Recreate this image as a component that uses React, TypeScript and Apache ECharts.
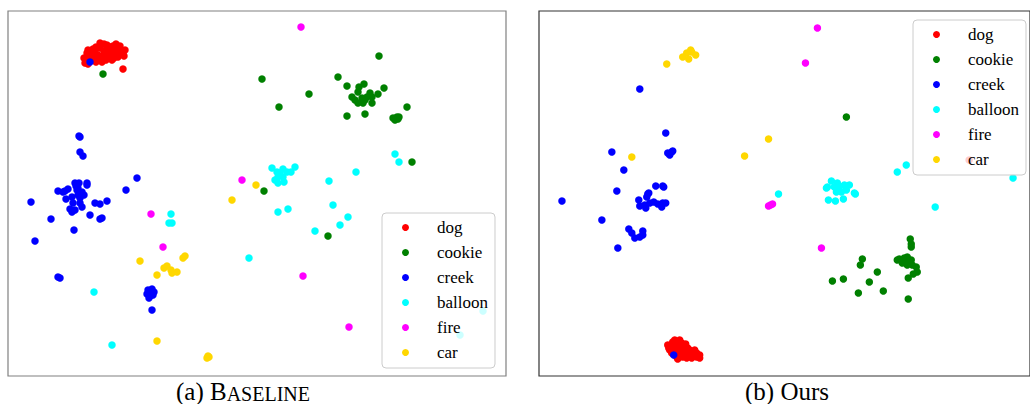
import React, { useEffect, useRef } from "react";
import * as echarts from "echarts";

const CLASSES = ["dog", "cookie", "creek", "balloon", "fire", "car"];
const COLORS = ["#ff0000", "#008000", "#0000ff", "#00ffff", "#ff00ff", "#ffd700"];

// Panel (a) Baseline (embedding units)
const baseDog = [
  [100, 43], [107, 45], [113, 46], [120, 46], [88, 50], [93, 49], [100, 48], [107, 49], [115, 50], [122, 52],
  [87, 53], [92, 55], [98, 55], [105, 53], [112, 55], [118, 57], [123, 53], [90, 60], [97, 59], [102, 62],
  [85, 63], [88, 64], [123, 69], [96, 47], [110, 47], [117, 48], [104, 51], [110, 52], [95, 52], [100, 57],
  [108, 57], [114, 58], [94, 58], [86, 60], [84, 58], [89, 57], [104, 44], [116, 44], [103, 56], [119, 50],
  [125, 50], [91, 52], [106, 60], [96, 62], [101, 60], [112, 60], [118, 54], [124, 56],
];
const baseCookie = [
  [103, 74], [262, 79], [379, 56], [338, 77], [347, 86], [309, 94], [279, 107], [359, 87], [364, 84], [358, 92],
  [384, 88], [378, 94], [370, 93], [352, 97], [355, 100], [362, 98], [367, 97], [372, 97], [358, 103], [363, 103],
  [372, 103], [365, 100], [407, 107], [347, 116], [365, 114], [393, 118], [397, 117], [398, 119], [395, 120],
  [399, 117], [412, 162], [264, 191], [328, 236],
];
const baseCreek = [
  [90, 62], [79, 136], [80, 137], [80, 152], [83, 156], [137, 178], [126, 190], [75, 183], [79, 183], [87, 183],
  [87, 185], [58, 191], [63, 192], [68, 189], [77, 190], [82, 192], [65, 191], [78, 188], [78, 195], [72, 197],
  [80, 198], [31, 202], [66, 199], [95, 203], [100, 204], [107, 201], [80, 203], [82, 207], [70, 209], [72, 212],
  [75, 210], [51, 219], [90, 215], [100, 219], [102, 218], [74, 230], [35, 241], [58, 277], [60, 278], [148, 290],
  [152, 289], [154, 292], [147, 294], [150, 296], [153, 295], [149, 298], [152, 310], [84, 195], [76, 186], [73, 203],
];
const baseBalloon = [
  [171, 214], [169, 223], [172, 223], [94, 292], [112, 345], [249, 258], [395, 154], [399, 162], [356, 172],
  [329, 181], [272, 168], [277, 172], [283, 169], [287, 172], [291, 172], [295, 167], [278, 177], [283, 177],
  [275, 180], [278, 183], [284, 182], [280, 173], [278, 212], [288, 209], [333, 205], [348, 217], [340, 225],
  [315, 231], [483, 311], [460, 335],
];
const baseFire = [[301, 27], [242, 180], [151, 214], [163, 247], [303, 276], [349, 327]];
const baseCar = [
  [256, 185], [232, 200], [140, 261], [157, 275], [164, 268], [167, 266], [171, 270], [172, 273], [177, 272],
  [183, 258], [185, 256], [157, 341], [208, 356], [207, 358], [209, 357],
];

// Panel (b) Ours
const oursDog = [
  [680, 340], [673, 342], [668, 345], [678, 345], [685, 347], [690, 350], [697, 353], [700, 355], [670, 350],
  [677, 352], [683, 353], [690, 356], [697, 357], [677, 357], [678, 359], [683, 357], [675, 347], [687, 352],
  [694, 354], [672, 353], [681, 349], [682, 343], [688, 348], [692, 358], [675, 340], [686, 344], [695, 350],
  [700, 358], [671, 345], [680, 355], [687, 358], [669, 348], [970, 160],
];
const oursCookie = [
  [847, 117], [911, 239], [912, 244], [912, 247], [900, 259], [905, 258], [908, 257], [912, 260], [903, 263],
  [908, 265], [913, 265], [917, 267], [898, 260], [907, 261], [918, 272], [914, 274], [909, 278], [909, 299],
  [863, 259], [861, 265], [878, 272], [844, 279], [833, 281], [870, 282], [859, 293], [884, 291],
];
const oursCreek = [
  [640, 89], [666, 133], [612, 152], [624, 170], [672, 152], [668, 153], [670, 155], [673, 151], [656, 186],
  [663, 186], [664, 187], [617, 191], [649, 193], [562, 201], [648, 194], [647, 197], [639, 200], [640, 206],
  [645, 205], [646, 208], [650, 203], [654, 202], [658, 204], [662, 207], [666, 203], [663, 203], [602, 220],
  [629, 229], [632, 233], [635, 238], [640, 237], [643, 231], [643, 235], [618, 248], [674, 355],
];
const oursBalloon = [
  [779, 194], [907, 165], [898, 172], [1014, 178], [832, 181], [828, 187], [835, 187], [840, 187], [850, 185],
  [855, 193], [842, 192], [847, 190], [837, 192], [827, 188], [829, 200], [836, 201], [844, 199], [856, 194],
  [936, 207], [845, 185], [838, 183],
];
const oursFire = [[818, 28], [806, 63], [769, 206], [773, 204], [771, 205], [822, 248]];
const oursCar = [
  [691, 50], [687, 53], [683, 57], [689, 59], [696, 55], [692, 52], [667, 64], [769, 139], [745, 156], [632, 157],
];

const BASE = [baseDog, baseCookie, baseCreek, baseBalloon, baseFire, baseCar];
const OURS = [oursDog, oursCookie, oursCreek, oursBalloon, oursFire, oursCar];

const FONT = "'Liberation Serif', 'Times New Roman', serif";

export default function App() {
  const ref = useRef<HTMLDivElement>(null);
  useEffect(() => {
    document.body.style.margin = "0";
    const chart = echarts.init(ref.current!, undefined, { renderer: "svg" });
    const mkSeries = (sets: number[][][], idx: number) =>
      sets.map((d, i) => ({
        type: "scatter",
        name: CLASSES[i],
        xAxisIndex: idx,
        yAxisIndex: idx,
        data: d,
        symbolSize: 7.5,
        itemStyle: { color: COLORS[i], opacity: 1 },
        emphasis: { disabled: true },
      }));
    const legendBase = {
      data: CLASSES,
      orient: "vertical",
      icon: "circle",
      itemWidth: 7,
      itemHeight: 7,
      itemGap: 8,
      padding: [6, 7, 7, 20],
      backgroundColor: "rgba(255,255,255,0.8)",
      borderColor: "#cccccc",
      borderWidth: 1,
      borderRadius: 4,
      selectedMode: false,
      textStyle: { fontFamily: FONT, fontSize: 17, color: "#000", lineHeight: 17, padding: [0, 0, 0, 23] },
    };
    chart.setOption({
      animation: false,
      grid: [
        { left: 8, top: 11, width: 498, height: 365, show: true, borderColor: "#808080", borderWidth: 1.2, backgroundColor: "transparent" },
        { left: 539, top: 11, width: 492, height: 365, show: true, borderColor: "#333333", borderWidth: 1.2, backgroundColor: "transparent" },
      ],
      xAxis: [
        { gridIndex: 0, type: "value", min: 8, max: 506, show: false },
        { gridIndex: 1, type: "value", min: 539, max: 1031, show: false },
      ],
      yAxis: [
        { gridIndex: 0, type: "value", min: 11, max: 376, inverse: true, show: false },
        { gridIndex: 1, type: "value", min: 11, max: 376, inverse: true, show: false },
      ],
      legend: [
        { ...legendBase, left: 382, top: 213 },
        { ...legendBase, left: 913, top: 20 },
      ],
      title: [
        {
          text: "{a|(a) B}{b|ASELINE}",
          left: 176,
          top: 378,
          padding: 0,
          textStyle: {
            rich: {
              a: { fontFamily: FONT, fontSize: 25, color: "#000", fontWeight: "normal", lineHeight: 26, verticalAlign: "bottom" },
              b: { fontFamily: FONT, fontSize: 20, color: "#000", fontWeight: "normal", lineHeight: 26, verticalAlign: "bottom" },
            },
          },
        },
        {
          text: "(b) Ours",
          left: 745,
          top: 378,
          padding: 0,
          textStyle: { fontFamily: FONT, fontSize: 25, color: "#000", fontWeight: "normal", lineHeight: 26 },
        },
      ],
      series: [...mkSeries(BASE, 0), ...mkSeries(OURS, 1)],
    });
    return () => chart.dispose();
  }, []);
  return <div ref={ref} style={{ width: 1030, height: 404 }} />;
}
